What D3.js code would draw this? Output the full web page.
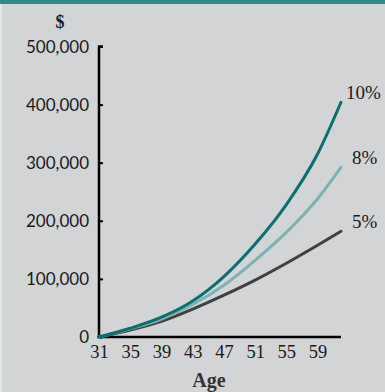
<!DOCTYPE html>
<html><head><meta charset="utf-8">
<script src="https://cdn.jsdelivr.net/npm/d3@7"></script>
<style>
html,body{margin:0;padding:0;background:#d3d4d6;}
svg{display:block;}
</style></head>
<body>
<svg id="chart" width="385" height="392"></svg>
<script>
const ages = [31, 35, 39, 43, 47, 51, 55, 59, 62];
const rate5  = [0, 12000, 27000, 48000, 72000, 98000, 127000, 158000, 182000];
const rate8  = [0, 14000, 31000, 56000, 89000, 132000, 180000, 238000, 292000];
const rate10 = [0, 15000, 34000, 62000, 104000, 160000, 228000, 315000, 404000];
const seriesNames = ["5%", "8%", "10%"];
const xTicks = [31, 35, 39, 43, 47, 51, 55, 59];
const yTicks = [0, 100000, 200000, 300000, 400000, 500000];

const svg = d3.select("#chart");
svg.append("rect").attr("x",0).attr("y",0).attr("width",385).attr("height",392).attr("fill","#d3d4d6");
svg.append("rect").attr("x",0).attr("y",0).attr("width",2).attr("height",392).attr("fill","#dde9e9");
svg.append("rect").attr("x",0).attr("y",0).attr("width",385).attr("height",4).attr("fill","#2b8b8d");

const x = d3.scaleLinear().domain([31, 62]).range([99, 341]);
const y = d3.scaleLinear().domain([0, 500000]).range([337, 46.5]);

const series = [
  {name: seriesNames[0], values: rate5,  color: "#404042"},
  {name: seriesNames[1], values: rate8,  color: "#7ab3b5"},
  {name: seriesNames[2], values: rate10, color: "#0a6f6f"}
];

const line = d3.line().x(d => x(d[0])).y(d => y(d[1])).curve(d3.curveMonotoneX);

// Y axis
const yAxis = d3.axisRight(y).tickValues(yTicks).tickSize(4).tickFormat("");
const yg = svg.append("g").attr("transform", `translate(${x(31)},0)`).call(yAxis);
yg.select(".domain").attr("stroke","#000").attr("stroke-width",2.5).attr("d", `M4,${y(500000)}H0V${y(0)}`);
yg.selectAll(".tick line").attr("stroke","#000").attr("stroke-width",2);

svg.append("g").selectAll("text").data(yTicks).join("text")
  .attr("x", 89).attr("y", d => y(d)).attr("dy","0.36em")
  .attr("text-anchor","end")
  .attr("font-family","Lato, 'Open Sans', sans-serif").attr("font-size",17).attr("fill","#1a1a1a")
  .text(d => d3.format(",")(d));

// X axis
const xAxis = d3.axisBottom(x).tickValues(xTicks).tickSize(0).tickFormat(d3.format("d"));
const xg = svg.append("g").attr("transform", `translate(0,${y(0)})`).call(xAxis);
xg.select(".domain").attr("stroke","#000").attr("stroke-width",2.5).attr("d", `M${x(31)-2},0H${x(62)}`);
xg.selectAll(".tick text").attr("y", 8).attr("dy","0.71em")
  .attr("font-family","'Liberation Serif', serif").attr("font-size",18.5).attr("fill","#1a1a1a");

// Lines
svg.append("g").selectAll("path").data(series).join("path")
  .attr("fill","none").attr("stroke", d => d.color).attr("stroke-width",3).attr("stroke-linecap","round")
  .attr("d", d => line(ages.map((a,i) => [a, d.values[i]])));

// Series labels
const labelOffsets = {"10%": -3, "8%": -3, "5%": -3};
svg.append("g").selectAll("text").data(series).join("text")
  .attr("x", d => d.name === "10%" ? 346 : 352)
  .attr("y", d => y(d.values[d.values.length-1]) + labelOffsets[d.name])
  .attr("font-family","'Liberation Serif', serif").attr("font-size",19).attr("fill","#1a1a1a")
  .text(d => d.name);

// Axis titles
svg.append("text").attr("x", 60).attr("y", 28).attr("text-anchor","middle")
  .attr("font-family","'Liberation Serif', serif").attr("font-size",18).attr("font-weight","bold").attr("fill","#1a1a1a").text("$");
svg.append("text").attr("x", 209).attr("y", 387).attr("text-anchor","middle")
  .attr("font-family","'Liberation Serif', serif").attr("font-size",20).attr("font-weight","bold").attr("fill","#333").text("Age");
</script>
</body></html>
